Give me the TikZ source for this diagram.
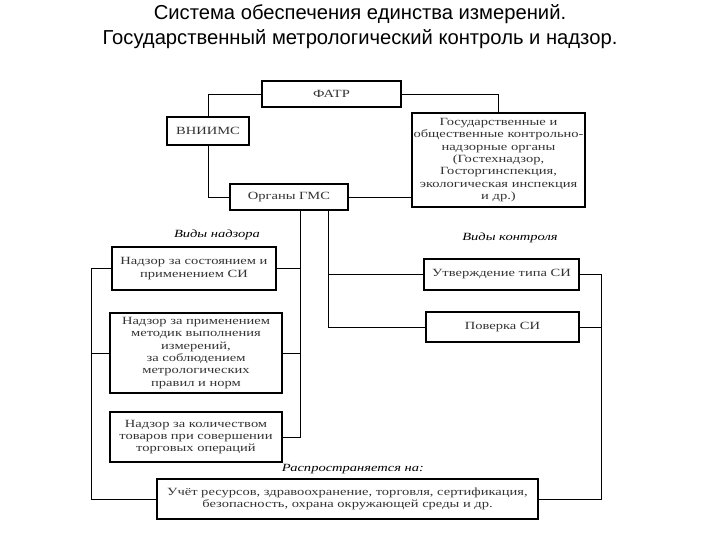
\documentclass[tikz,border=0pt]{standalone}
\usepackage{fontspec}
\setmainfont{Liberation Serif}
\newfontfamily\titlefont{Liberation Sans}
\newfontfamily\boxfont[FakeStretch=1.32]{Liberation Serif}
\usetikzlibrary{calc}
\begin{document}
\begin{tikzpicture}[x=1pt,y=-1pt,
  box/.style={draw,line width=1.3pt,rectangle,align=center,inner sep=0pt,
    font=\boxfont\fontsize{11}{12.3}\selectfont,text=black!80},
  conn/.style={draw,line width=0.9pt},
  lbl/.style={font=\boxfont\itshape\fontsize{11}{12}\selectfont,inner sep=0pt},
  ttl/.style={font=\titlefont\fontsize{20.2}{22}\selectfont,inner sep=0pt}]
\useasboundingbox (0,0) rectangle (720,540);
\node[ttl] (t1) at (360,14) {Система обеспечения единства измерений.};
\node[ttl] (t2) at (360,39) {Государственный метрологический контроль и надзор.};
\node[box,minimum width=139pt,minimum height=26pt] (fatr) at (331.5,94) {ФАТР};
\node[box,minimum width=82pt,minimum height=28pt] (vniims) at (208,131) {ВНИИМС};
\node[box,minimum width=118pt,minimum height=26pt] (gms) at (289,197) {Органы ГМС};
\node[box,minimum width=173pt,minimum height=94pt] (gos) at (498.5,160) {Государственные и\\общественные контрольно-\\надзорные органы\\(Гостехнадзор,\\Госторгинспекция,\\экологическая инспекция\\и др.)};
\node[box,minimum width=164pt,minimum height=43pt] (n1) at (194,268.5) {Надзор за состоянием и\\применением СИ};
\node[box,minimum width=172pt,minimum height=80pt] (n2) at (196,353) {Надзор за применением\\методик выполнения\\измерений,\\за соблюдением\\метрологических\\правил и норм};
\node[box,minimum width=172pt,minimum height=50pt] (n3) at (196,437) {Надзор за количеством\\товаров при совершении\\торговых операций};
\node[box,minimum width=155pt,minimum height=31pt] (k1) at (501.5,274.5) {Утверждение типа СИ};
\node[box,minimum width=153pt,minimum height=30pt] (k2) at (502.5,327) {Поверка СИ};
\node[box,minimum width=381pt,minimum height=40pt] (uch) at (347.5,499) {Учёт ресурсов, здравоохранение, торговля, сертификация,\\безопасность, охрана окружающей среды и др.};
\node[lbl] (l1) at (217,235) {Виды надзора};
\node[lbl] (l2) at (510,238) {Виды контроля};
\node[lbl] (l3) at (353,469) {Распространяется на:};
\coordinate (xa) at (300,0);
\coordinate (xb) at (328.5,0);
\coordinate (xl) at (91,0);
\coordinate (xr) at (601,0);
\draw[conn] (fatr.west) -| (vniims.north);
\draw[conn] (vniims.south) |- (gms.west);
\draw[conn] (fatr.east) -| (gos.north);
\draw[conn] (gms.east) -- (gms.east -| gos.west);
\draw[conn] (gms.south -| xa) -- (n3.east -| xa) -- (n3.east);
\draw[conn] (n1.east) -- (n1.east -| xa);
\draw[conn] (n2.east) -- (n2.east -| xa);
\draw[conn] (gms.south -| xb) -- (k2.west -| xb) -- (k2.west);
\draw[conn] (k1.west) -- (k1.west -| xb);
\draw[conn] (n1.west) -- (n1.west -| xl) -- (uch.west -| xl) -- (uch.west);
\draw[conn] (n2.west) -- (n2.west -| xl);
\draw[conn] (k1.east) -- (k1.east -| xr) -- (uch.east -| xr) -- (uch.east);
\draw[conn] (k2.east) -- (k2.east -| xr);
\end{tikzpicture}
\end{document}
